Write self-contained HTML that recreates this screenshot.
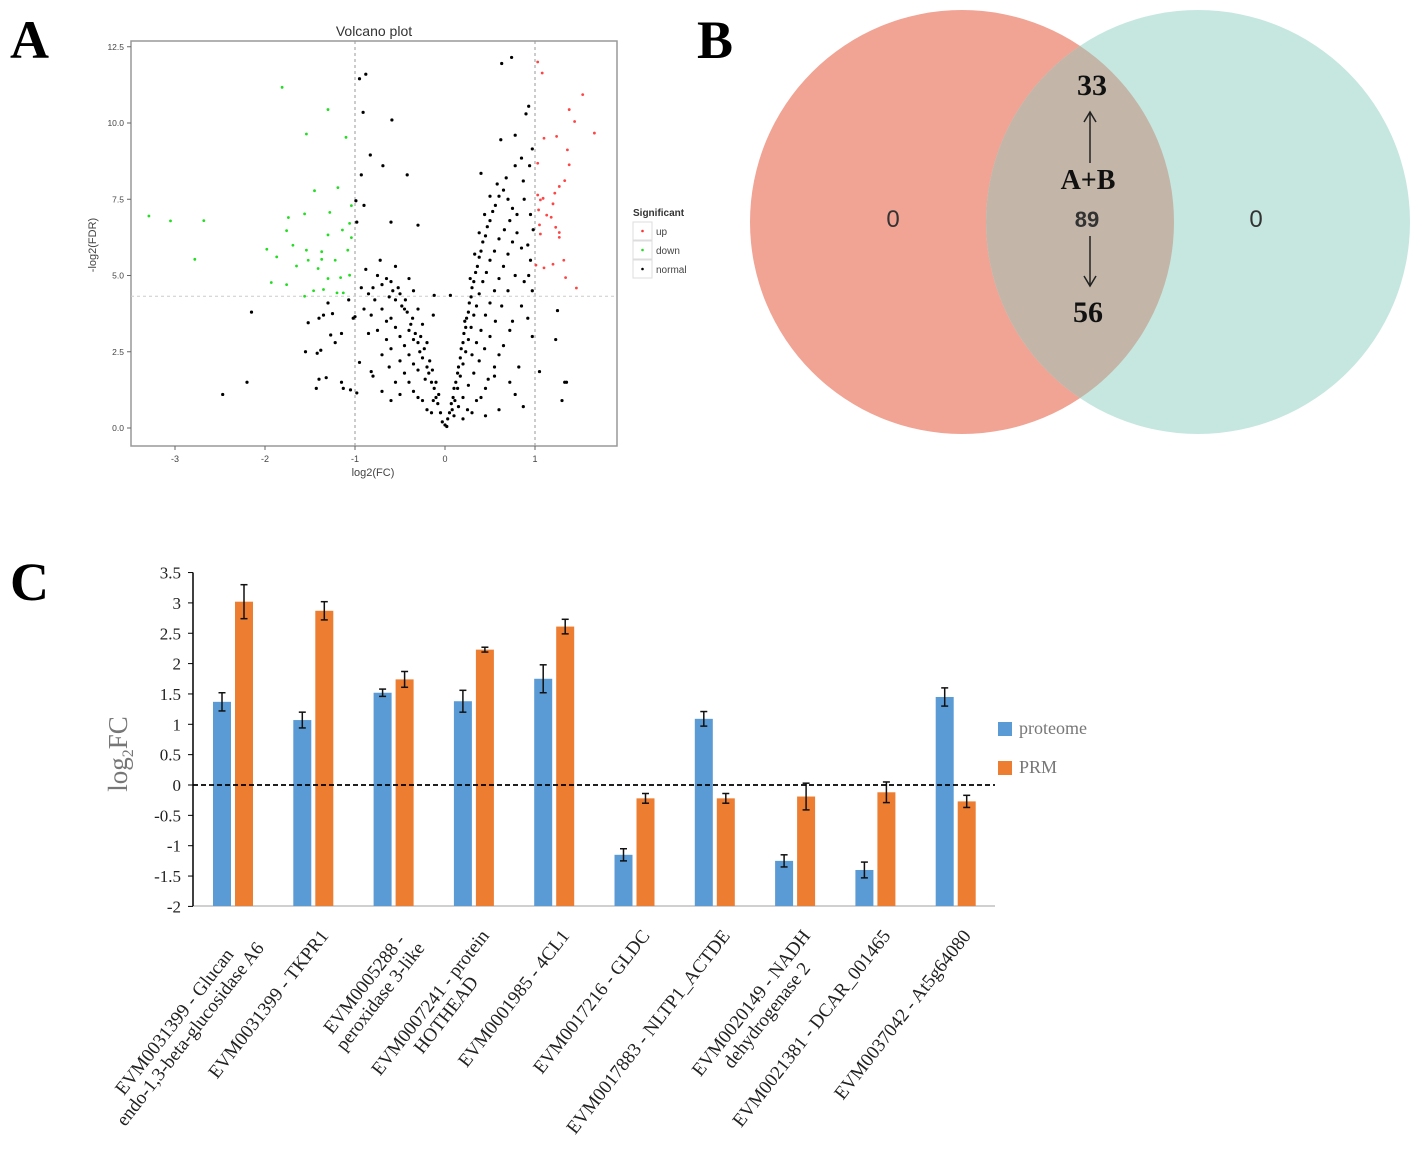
<!DOCTYPE html>
<html><head><meta charset="utf-8"><style>
html,body{margin:0;padding:0;background:#fff;}
svg{display:block;}
.serif{font-family:"Liberation Serif",serif;}
.sans{font-family:"Liberation Sans",sans-serif;}
</style></head><body>
<svg id="fig" width="1428" height="1166" viewBox="0 0 1428 1166" xmlns="http://www.w3.org/2000/svg">
  <text x="10" y="58" class="serif" font-size="54" font-weight="bold">A</text>
  <text x="697" y="58" class="serif" font-size="54" font-weight="bold">B</text>
  <text x="10" y="600" class="serif" font-size="54" font-weight="bold">C</text>

  <!-- Volcano -->
  <g id="volcano">
    <text x="374" y="36" class="sans" font-size="14" text-anchor="middle" fill="#333">Volcano plot</text>
    <rect x="131" y="41" width="486" height="405" fill="#fff" stroke="#999" stroke-width="1.5"/>
    <g id="vAxes"></g>
    <g id="vPoints"></g>
    <text x="373" y="476" class="sans" font-size="11" text-anchor="middle" fill="#444">log2(FC)</text>
    <text transform="translate(96,245) rotate(-90)" class="sans" font-size="11" text-anchor="middle" fill="#444">-log2(FDR)</text>
    <g>
      <text x="633" y="216" class="sans" font-size="10" font-weight="bold" fill="#333">Significant</text>
      <rect x="633" y="222" width="19" height="18" fill="#fff" stroke="#ddd"/>
      <circle cx="642.5" cy="231" r="1.3" fill="#f33"/>
      <text x="656" y="235" class="sans" font-size="10" fill="#444">up</text>
      <rect x="633" y="241" width="19" height="18" fill="#fff" stroke="#ddd"/>
      <circle cx="642.5" cy="250" r="1.3" fill="#2d2"/>
      <text x="656" y="254" class="sans" font-size="10" fill="#444">down</text>
      <rect x="633" y="260" width="19" height="18" fill="#fff" stroke="#ddd"/>
      <circle cx="642.5" cy="269" r="1.3" fill="#000"/>
      <text x="656" y="273" class="sans" font-size="10" fill="#444">normal</text>
    </g>
  </g>

  <!-- Venn -->
  <g id="venn">
    <defs><clipPath id="clipL"><circle cx="962" cy="222" r="212"/></clipPath></defs>
    <circle cx="962" cy="222" r="212" fill="#f1a394"/>
    <circle cx="1198" cy="222" r="212" fill="#c6e7e0"/>
    <circle cx="1198" cy="222" r="212" fill="#c3b6a8" clip-path="url(#clipL)"/>
    <text x="893" y="227" class="sans" font-size="24" text-anchor="middle" fill="#333">0</text>
    <text x="1256" y="227" class="sans" font-size="24" text-anchor="middle" fill="#333">0</text>
    <text x="1092" y="95" class="serif" font-size="30" font-weight="bold" text-anchor="middle" fill="#111">33</text>
    <line x1="1090" y1="163" x2="1090" y2="113" stroke="#222" stroke-width="1.5"/>
    <path d="M1084 122 L1090 112 L1096 122" fill="none" stroke="#222" stroke-width="1.5"/>
    <text x="1088" y="189" class="serif" font-size="28" font-weight="bold" text-anchor="middle" fill="#111">A+B</text>
    <text x="1087" y="227" class="sans" font-size="22" font-weight="bold" text-anchor="middle" fill="#333">89</text>
    <line x1="1090" y1="236" x2="1090" y2="285" stroke="#222" stroke-width="1.5"/>
    <path d="M1084 276 L1090 286 L1096 276" fill="none" stroke="#222" stroke-width="1.5"/>
    <text x="1088" y="322" class="serif" font-size="30" font-weight="bold" text-anchor="middle" fill="#111">56</text>
  </g>

  <!-- Bar chart -->
  <g id="bars"></g>
  <g>
    <rect x="998" y="722" width="14" height="14" fill="#5b9bd5"/>
    <text x="1019" y="734" class="serif" font-size="18" fill="#777">proteome</text>
    <rect x="998" y="761" width="14" height="14" fill="#ed7d31"/>
    <text x="1019" y="773" class="serif" font-size="18" fill="#777">PRM</text>
  </g>
  <text transform="translate(127,754) rotate(-90)" class="serif" font-size="27" text-anchor="middle" fill="#777">log<tspan font-size="16" dy="6">2</tspan><tspan dy="-6">FC</tspan></text>
</svg>
<script>
const NS="http://www.w3.org/2000/svg";
// ---- Volcano data ----
const volcXTicks=[-3,-2,-1,0,1];
const volcYTicks=[0,2.5,5,7.5,10,12.5];
const volcYTickLabels=["0.0","2.5","5.0","7.5","10.0","12.5"];
const downPoints=[[-3.29,6.95],[-3.05,6.79],[-2.68,6.8],[-2.78,5.53],[-1.81,11.17],[-1.30,10.44],[-1.54,9.64],[-1.10,9.53],[-1.45,7.78],[-1.19,7.88],[-1.74,6.9],[-1.56,7.02],[-1.28,7.07],[-1.04,7.29],[-1.76,6.47],[-1.98,5.86],[-1.87,5.61],[-1.69,5.99],[-1.54,5.83],[-1.37,5.78],[-1.30,6.33],[-1.14,6.49],[-1.06,6.71],[-1.04,6.24],[-1.65,5.31],[-1.52,5.5],[-1.41,5.23],[-1.37,5.53],[-1.22,5.5],[-1.08,5.83],[-1.93,4.77],[-1.76,4.7],[-1.30,4.9],[-1.16,4.93],[-1.06,5.01],[-1.46,4.5],[-1.35,4.54],[-1.20,4.43],[-1.13,4.43],[-1.56,4.32]];
const upPoints=[[1.03,12.0],[1.08,11.64],[1.53,10.93],[1.38,10.44],[1.44,10.05],[1.66,9.67],[1.10,9.5],[1.24,9.56],[1.36,9.12],[1.03,8.68],[1.38,8.63],[1.33,8.11],[1.27,7.92],[1.22,7.7],[1.03,7.64],[1.06,7.48],[1.09,7.53],[1.04,7.15],[1.13,6.98],[1.18,6.91],[1.20,7.35],[1.05,6.66],[1.23,6.58],[1.27,6.41],[1.06,6.36],[1.27,6.25],[1.01,5.34],[1.10,5.25],[1.20,5.37],[1.32,5.5],[1.34,4.93],[1.46,4.59]];
const normalPoints=[[-0.95,11.45],[-0.88,11.6],[-0.91,10.35],[-0.59,10.1],[0.63,11.95],[0.74,12.15],[0.93,10.55],[0.9,10.3],[0.62,9.45],[0.78,9.6],[0.97,9.15],[-0.83,8.95],[-0.69,8.6],[-0.42,8.3],[-0.93,8.3],[0.4,8.35],[0.85,8.85],[0.78,8.6],[0.94,8.6],[0.87,8.1],[-0.99,7.45],[-0.9,7.3],[-0.98,6.75],[-0.6,6.75],[-0.3,6.65],[-2.15,3.8],[-2.2,1.5],[-2.47,1.1],[-1.35,3.7],[-1.4,3.6],[-1.25,3.75],[-1.3,4.1],[-1.52,3.45],[-1.55,2.5],[-1.42,2.45],[-1.38,2.55],[-1.27,3.05],[-1.15,3.1],[-1.22,2.8],[-1.02,3.6],[-1.0,3.65],[-1.4,1.6],[-1.32,1.65],[-1.43,1.3],[-1.15,1.5],[-1.13,1.3],[-1.05,1.25],[-0.98,1.15],[-0.95,2.15],[-0.82,1.85],[-1.07,4.2],[1.25,3.85],[1.23,2.9],[1.35,1.5],[1.33,1.5],[1.3,0.9],[1.05,1.85],[0.97,3.0],[0.92,3.6],[0.97,4.5],[0.93,5.0],[0.95,5.5],[0.92,6.0],[0.98,6.5],[0.95,7.0],[0.88,7.5],[0.75,3.5],[0.82,2.0],[0.78,1.1],[0.87,0.7],[0.72,1.5],[0.55,1.7],[0.6,0.6],[0.45,0.4],[-0.5,1.1],[-0.6,0.9],[-0.7,1.2],[-0.8,1.7],[-0.12,4.35],[-0.13,3.7],[0.06,4.35],
[-0.05,0.5],[-0.08,0.8],[-0.1,1.0],[-0.12,1.3],[-0.15,1.5],[-0.13,0.9],[-0.18,1.8],[-0.2,2.0],[-0.22,1.6],[-0.25,2.3],[-0.23,2.6],[-0.28,2.5],[-0.3,2.8],[-0.27,3.0],[-0.33,3.1],[-0.35,2.9],[-0.38,3.4],[-0.36,3.6],[-0.4,3.2],[-0.42,3.8],[-0.45,3.9],[-0.44,4.2],[-0.48,4.0],[-0.5,4.4],[-0.52,4.6],[-0.55,4.2],[-0.58,4.5],[-0.6,4.8],[-0.62,4.3],[-0.65,4.9],[-0.7,4.7],[-0.75,5.0],[-0.8,4.6],[-0.85,4.4],[-0.88,5.2],[-0.72,5.5],[-0.55,5.3],[-0.4,4.9],[-0.35,4.5],[-0.3,3.9],[-0.25,3.4],[-0.2,2.8],[-0.17,2.2],[-0.14,1.9],[-0.1,1.5],[-0.07,1.1],[-0.3,1.9],[-0.35,2.1],[-0.4,2.4],[-0.45,2.7],[-0.5,3.0],[-0.55,3.3],[-0.6,3.6],[-0.65,3.5],[-0.7,3.9],[-0.75,3.2],[-0.78,4.2],[-0.5,2.2],[-0.6,2.6],[-0.65,2.9],[-0.45,1.8],[-0.4,1.5],[-0.35,1.2],[-0.3,1.0],[-0.25,0.9],[-0.2,0.6],[-0.15,0.5],[-0.55,1.5],[-0.62,2.0],[-0.7,2.4],[-0.85,3.1],[-0.9,3.9],[-0.93,4.6],[-0.82,3.7],
[0.03,0.3],[0.05,0.5],[0.07,0.8],[0.09,1.0],[0.1,1.3],[0.12,1.5],[0.14,1.8],[0.15,2.0],[0.17,2.3],[0.18,2.6],[0.2,2.8],[0.21,3.1],[0.23,3.3],[0.24,3.6],[0.26,3.8],[0.27,4.1],[0.29,4.3],[0.3,4.6],[0.32,4.8],[0.34,5.1],[0.36,5.3],[0.38,5.6],[0.4,5.8],[0.42,6.1],[0.45,6.3],[0.47,6.6],[0.5,6.8],[0.53,7.1],[0.56,7.3],[0.6,7.6],[0.65,7.8],[0.7,7.5],[0.75,7.2],[0.8,7.0],[0.72,6.8],[0.66,6.5],[0.6,6.2],[0.55,5.8],[0.5,5.5],[0.46,5.1],[0.42,4.8],[0.38,4.4],[0.35,4.0],[0.32,3.7],[0.29,3.3],[0.26,2.9],[0.23,2.5],[0.2,2.1],[0.17,1.7],[0.14,1.3],[0.11,0.9],[0.08,0.6],[0.3,2.4],[0.35,2.8],[0.4,3.2],[0.45,3.7],[0.5,4.1],[0.55,4.5],[0.6,4.9],[0.65,5.3],[0.7,5.7],[0.75,6.1],[0.8,6.4],[0.85,5.9],[0.78,5.0],[0.7,4.5],[0.63,4.0],[0.56,3.5],[0.5,3.0],[0.44,2.6],[0.38,2.2],[0.32,1.8],[0.26,1.4],[0.2,1.0],[0.15,0.7],[0.1,0.4],[0.25,0.6],[0.35,0.9],[0.45,1.3],[0.55,2.0],[0.65,2.7],[0.72,3.2],[0.85,4.0],[0.88,4.8],[0.6,2.4],[0.48,1.6],[0.4,1.0],[0.3,0.5],[0.22,3.5],[0.28,4.9],[0.33,5.7],[0.38,6.4],[0.44,7.0],[0.5,7.6],[0.58,8.0],[0.68,8.2],[0.2,0.3],[-0.03,0.2],[0.0,0.1],[0.02,0.05]];
const fcThreshold=[-1,1];
const fdrThreshold=4.32;

// ---- Bar data ----
const genes=[["EVM0031399 - Glucan","endo-1,3-beta-glucosidase A6"],["EVM0031399 - TKPR1"],["EVM0005288 -","peroxidase 3-like"],["EVM0007241 - protein","HOTHEAD"],["EVM0001985 - 4CL1"],["EVM0017216 - GLDC"],["EVM0017883 - NLTP1_ACTDE"],["EVM0020149 - NADH","dehydrogenase 2"],["EVM0021381 - DCAR_001465"],["EVM0037042 - At5g64080"]];
const proteome=[1.37,1.07,1.52,1.38,1.75,-1.15,1.09,-1.25,-1.40,1.45];
const proteomeErr=[0.15,0.13,0.06,0.18,0.23,0.10,0.12,0.10,0.13,0.15];
const prm=[3.02,2.87,1.74,2.23,2.61,-0.22,-0.22,-0.19,-0.12,-0.27];
const prmErr=[0.28,0.15,0.13,0.04,0.12,0.08,0.08,0.22,0.17,0.10];
const barYTicks=[-2,-1.5,-1,-0.5,0,0.5,1,1.5,2,2.5,3,3.5];

function mk(tag,attrs,parent){const e=document.createElementNS(NS,tag);for(const k in attrs)e.setAttribute(k,attrs[k]);parent.appendChild(e);return e;}

// Volcano
const vx=v=>445+90*v, vy=v=>428-30.5*v;
const vAxes=document.getElementById('vAxes'), vPts=document.getElementById('vPoints');
volcXTicks.forEach(t=>{
  mk('line',{x1:vx(t),y1:446,x2:vx(t),y2:450,stroke:'#666'},vAxes);
  const tx=mk('text',{x:vx(t),y:462,'font-size':9,'text-anchor':'middle',fill:'#444',class:'sans'},vAxes);
  tx.textContent=t;
  
  
});
volcYTicks.forEach((t,i)=>{
  mk('line',{x1:127,y1:vy(t),x2:131,y2:vy(t),stroke:'#666'},vAxes);
  const tx=mk('text',{x:124,y:vy(t)+3,'font-size':8.5,'text-anchor':'end',fill:'#444',class:'sans'},vAxes);
  tx.textContent=volcYTickLabels[i];
  
  
});
fcThreshold.forEach(t=>{
  const l=mk('line',{x1:vx(t),y1:41,x2:vx(t),y2:446,stroke:'#999','stroke-dasharray':'3,3'},vAxes);
  
  
});
const hl=mk('line',{x1:131,y1:vy(fdrThreshold),x2:617,y2:vy(fdrThreshold),stroke:'#ccc','stroke-dasharray':'3,3'},vAxes);


function drawPts(arr,col,name,r){arr.forEach(p=>{const c=mk('circle',{cx:vx(p[0]),cy:vy(p[1]),r:r,fill:col},vPts);
  
  });}
drawPts(normalPoints,'#000','point-normal',1.6);
drawPts(downPoints,'#22dd22','point-down',1.4);
drawPts(upPoints,'#ff4444','point-up',1.4);

// Bars
const bg=document.getElementById('bars');
const AX=193;
const by=v=>785-60.7*v;
const gx=i=>233+80.3*i;
const bw=18;
mk('line',{x1:AX,y1:906,x2:995,y2:906,stroke:'#d0d0d0','stroke-width':2},bg);
mk('line',{x1:AX,y1:by(3.5),x2:AX,y2:906,stroke:'#000','stroke-width':1.5},bg);
barYTicks.forEach(t=>{
  mk('line',{x1:AX-5,y1:by(t),x2:AX,y2:by(t),stroke:'#000'},bg);
  const tx=mk('text',{x:AX-12,y:by(t)+6,'font-size':17,'text-anchor':'end',fill:'#222',class:'serif'},bg);
  tx.textContent=t;
  
  
});
function bar(x,v,e,col,name){
  const r=mk('rect',{x:x-bw/2,y:by(v),width:bw,height:906-by(v),fill:col},bg);
  
  
  mk('line',{x1:x,y1:by(v+e),x2:x,y2:by(v-e),stroke:'#111','stroke-width':1.5},bg);
  mk('line',{x1:x-3.5,y1:by(v+e),x2:x+3.5,y2:by(v+e),stroke:'#111','stroke-width':1.5},bg);
  mk('line',{x1:x-3.5,y1:by(v-e),x2:x+3.5,y2:by(v-e),stroke:'#111','stroke-width':1.5},bg);
}
genes.forEach((g,i)=>{
  bar(gx(i)-11,proteome[i],proteomeErr[i],'#5b9bd5','bar-proteome');
  bar(gx(i)+11,prm[i],prmErr[i],'#ed7d31','bar-prm');
  const grp=mk('g',{transform:`translate(${gx(i)+16},936) rotate(-52)`},bg);
  
  
  const ts=g.map((line,j)=>{const t=mk('text',{x:0,y:j*20,'font-size':19,'text-anchor':'end',fill:'#222',class:'serif'},grp);t.textContent=line;return t;});
  const lens=ts.map(t=>t.getComputedTextLength());
  const mx=Math.max(...lens);
  ts.forEach((t,j)=>t.setAttribute('x',-(mx-lens[j])/2));
});
const zl=mk('line',{x1:AX,y1:by(0),x2:995,y2:by(0),stroke:'#000','stroke-width':1.8,'stroke-dasharray':'5,3'},bg);


</script>
</body></html>
